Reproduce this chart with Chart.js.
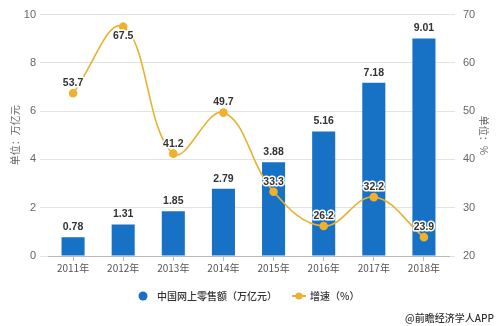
<!DOCTYPE html>
<html><head><meta charset="utf-8">
<script src="https://cdn.jsdelivr.net/npm/chart.js@4/dist/chart.umd.min.js"></script>
<style>html,body{margin:0;padding:0;background:#fff}#w{width:499px;height:326px}</style>
</head>
<body><div id="w"><canvas id="c" width="499" height="326"></canvas></div>
<script>
const categories = ['2011年','2012年','2013年','2014年','2015年','2016年','2017年','2018年'];
const salesValues = [0.78,1.31,1.85,2.79,3.88,5.16,7.18,9.01];
const growthValues = [53.7,67.5,41.2,49.7,33.3,26.2,32.2,23.9];
const seriesNames = ['中国网上零售额（万亿元）','增速（%）'];
const axisTitles = ['单位：万亿元','单位：%'];
const sourceNote = '@前瞻经济学人APP';

const BLUE = '#1772c5';
const GOLD = '#e6b230';
const POINT = '#f0b02e';
const CJK = '"Noto Sans CJK SC","Noto Sans",sans-serif';
const NUM = '"Liberation Sans",Arial,sans-serif';

const overlay = {
  id: 'overlay',
  afterDatasetsDraw(chart) {
    const ctx = chart.ctx;
    const ca = chart.chartArea;
    ctx.save();
    ctx.font = 'bold 10.5px ' + NUM;
    ctx.textAlign = 'center';
    ctx.textBaseline = 'middle';
    const m0 = chart.getDatasetMeta(0);
    m0.data.forEach((el, i) => {
      ctx.fillStyle = '#333';
      ctx.fillText(salesValues[i].toFixed(2), el.x, el.y - 10);
    });
    const m1 = chart.getDatasetMeta(1);
    m1.data.forEach((el, i) => {
      const below = el.y - 20 < ca.top;
      const y = below ? el.y + 9 : el.y - 10;
      const t = growthValues[i].toFixed(1);
      ctx.lineWidth = 3;
      ctx.strokeStyle = '#fff';
      ctx.lineJoin = 'round';
      ctx.strokeText(t, el.x, y);
      ctx.fillStyle = '#333';
      ctx.fillText(t, el.x, y);
    });
    ctx.restore();
  },
  afterDraw(chart) {
    const ctx = chart.ctx;
    const ca = chart.chartArea;
    const cy = (ca.top + ca.bottom) / 2;
    ctx.save();
    ctx.fillStyle = '#666';
    ctx.font = '10px ' + CJK;
    ctx.textAlign = 'center';
    ctx.textBaseline = 'middle';
    ctx.translate(15, cy);
    ctx.rotate(-Math.PI / 2);
    ctx.fillText(axisTitles[0], 0, 0);
    ctx.restore();
    ctx.save();
    ctx.fillStyle = '#666';
    ctx.font = '10px ' + CJK;
    ctx.textAlign = 'center';
    ctx.textBaseline = 'middle';
    ctx.translate(484, cy);
    ctx.rotate(Math.PI / 2);
    ctx.fillText(axisTitles[1], 0, 0);
    ctx.restore();

    // legend
    ctx.save();
    const ly = 296;
    ctx.font = '500 10px ' + CJK;
    ctx.textBaseline = 'middle';
    ctx.textAlign = 'left';
    ctx.fillStyle = BLUE;
    ctx.beginPath(); ctx.arc(143, ly, 4.5, 0, Math.PI * 2); ctx.fill();
    ctx.fillStyle = '#333';
    ctx.fillText(seriesNames[0], 157, ly);
    ctx.strokeStyle = GOLD; ctx.lineWidth = 2;
    ctx.beginPath(); ctx.moveTo(292, ly); ctx.lineTo(306, ly); ctx.stroke();
    ctx.fillStyle = POINT;
    ctx.beginPath(); ctx.arc(299, ly, 3.5, 0, Math.PI * 2); ctx.fill();
    ctx.fillStyle = '#333';
    ctx.fillText(seriesNames[1], 310, ly);
    ctx.textAlign = 'right';
    ctx.fillText(sourceNote, 494, 318);
    ctx.restore();
  }
};

new Chart(document.getElementById('c'), {
  type: 'bar',
  data: {
    labels: categories,
    datasets: [
      {
        type: 'bar', label: seriesNames[0], data: salesValues, yAxisID: 'y',
        backgroundColor: BLUE, barPercentage: 0.92, categoryPercentage: 0.5, order: 2
      },
      {
        type: 'line', label: seriesNames[1], data: growthValues, yAxisID: 'y1',
        borderColor: GOLD, borderWidth: 1.6, tension: 0.4, pointRadius: 3.5,
        pointBackgroundColor: POINT, pointBorderColor: POINT, order: 1
      }
    ]
  },
  options: {
    responsive: false,
    animation: false,
    devicePixelRatio: 1,
    layout: { padding: { top: 11, bottom: 50, left: 0, right: 0 } },
    plugins: { legend: { display: false }, tooltip: { enabled: false } },
    scales: {
      x: {
        grid: { drawOnChartArea: false, offset: false, tickLength: 5, color: '#bbb' },
        border: { color: '#bbb' },
        ticks: { color: '#555', font: { size: 10, family: CJK }, padding: 1, maxRotation: 0 },
        afterFit(s) { s.height = 20; }
      },
      y: {
        position: 'left', min: 0, max: 10,
        ticks: { stepSize: 2, color: '#666', font: { size: 11, family: NUM }, padding: 4 },
        grid: { color: '#e3e3e3', tickLength: 8 },
        border: { display: false },
        afterFit(s) { s.width = 48; }
      },
      y1: {
        position: 'right', min: 20, max: 70,
        ticks: { stepSize: 10, color: '#666', font: { size: 11, family: NUM }, padding: 8 },
        grid: { drawOnChartArea: false, color: '#e3e3e3', tickLength: 6 },
        border: { display: false },
        afterFit(s) { s.width = 50; }
      }
    }
  },
  plugins: [overlay]
});
</script>
</body></html>
